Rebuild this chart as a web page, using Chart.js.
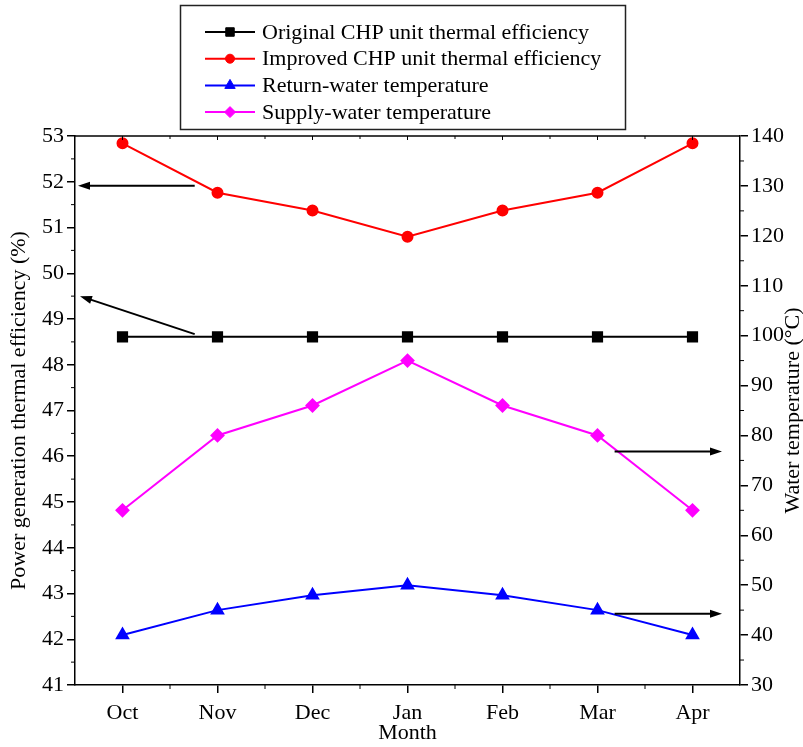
<!DOCTYPE html>
<html>
<head>
<meta charset="utf-8">
<script src="https://cdn.jsdelivr.net/npm/chart.js@4.4.0/dist/chart.umd.min.js"></script>
<style>
  html, body { margin: 0; padding: 0; background: #fff; }
  #wrap { width: 803px; height: 747px; }
</style>
</head>
<body>
<div id="wrap"><canvas id="chart" width="803" height="747"></canvas></div>
<script>
"use strict";

// values
const months = ["Oct", "Nov", "Dec", "Jan", "Feb", "Mar", "Apr"];
const originalEff = [48.61, 48.61, 48.61, 48.61, 48.61, 48.61, 48.61];
const improvedEff = [52.84, 51.76, 51.37, 50.80, 51.37, 51.76, 52.84];
const returnTemp = [40, 45, 48, 50, 48, 45, 40];
const supplyTemp = [65, 80, 86, 95, 86, 80, 65];

const effRange = [41, 53];
const tempRange = [30, 140];

const serif = "'Liberation Serif', 'Times New Roman', serif";
const fontSize = 22;
Chart.defaults.font.family = serif;
Chart.defaults.color = "#000";

// frame, minor ticks, arrows, legend box and right title
const decorPlugin = {
  id: "decor",
  afterDraw(chart) {
    const ctx = chart.ctx;
    const area = chart.chartArea;
    const x = chart.scales.x;
    const yEff = chart.scales.yEff;
    const yTemp = chart.scales.yTemp;

    ctx.save();
    ctx.strokeStyle = "#000";
    ctx.lineWidth = 1.5;

    // top border
    ctx.beginPath();
    ctx.moveTo(area.left, area.top);
    ctx.lineTo(area.right, area.top);
    ctx.stroke();

    // minor ticks
    ctx.lineWidth = 1;
    ctx.beginPath();
    for (let v = effRange[0] + 0.5; v < effRange[1]; v += 1) {
      const py = yEff.getPixelForValue(v);
      ctx.moveTo(area.left, py);
      ctx.lineTo(area.left - 4, py);
    }
    for (let v = tempRange[0] + 5; v < tempRange[1]; v += 10) {
      const py = yTemp.getPixelForValue(v);
      ctx.moveTo(area.right, py);
      ctx.lineTo(area.right + 4, py);
    }
    for (let i = 0; i < months.length; i++) {
      const pm = x.getPixelForValue(i);
      ctx.moveTo(pm, area.top);
      ctx.lineTo(pm, area.top + 4);
      const pn = x.getPixelForValue(i + 0.5);
      if (i < months.length - 1) {
        ctx.moveTo(pn, area.bottom);
        ctx.lineTo(pn, area.bottom + 4);
        ctx.moveTo(pn, area.top);
        ctx.lineTo(pn, area.top + 3);
      }
    }
    ctx.stroke();

    // arrows pointing at the axis each curve belongs to
    function arrow(x0, y0, x1, y1) {
      const ang = Math.atan2(y1 - y0, x1 - x0);
      const len = 12;
      ctx.lineWidth = 2;
      ctx.beginPath();
      ctx.moveTo(x0, y0);
      ctx.lineTo(x1 - Math.cos(ang) * len * 0.8, y1 - Math.sin(ang) * len * 0.8);
      ctx.stroke();
      ctx.beginPath();
      ctx.moveTo(x1, y1);
      ctx.lineTo(x1 - len * Math.cos(ang) + 4 * Math.sin(ang), y1 - len * Math.sin(ang) - 4 * Math.cos(ang));
      ctx.lineTo(x1 - len * Math.cos(ang) - 4 * Math.sin(ang), y1 - len * Math.sin(ang) + 4 * Math.cos(ang));
      ctx.closePath();
      ctx.fillStyle = "#000";
      ctx.fill();
    }
    arrow(x.getPixelForValue(0.76), yEff.getPixelForValue(51.91), area.left + 3, yEff.getPixelForValue(51.91));
    arrow(x.getPixelForValue(0.76), yEff.getPixelForValue(48.67), area.left + 5, yEff.getPixelForValue(49.5));
    arrow(x.getPixelForValue(5.18), yTemp.getPixelForValue(76.8), area.right - 18, yTemp.getPixelForValue(76.8));
    arrow(x.getPixelForValue(5.18), yTemp.getPixelForValue(44.3), area.right - 18, yTemp.getPixelForValue(44.3));

    // legend box
    ctx.strokeStyle = "#222";
    ctx.lineWidth = 1.5;
    ctx.strokeRect(180.5, 5.5, 445, 124);
    ctx.font = fontSize + "px " + serif;
    ctx.textBaseline = "middle";
    ctx.textAlign = "left";
    chart.data.datasets.forEach((ds, i) => {
      const ly = 32 + i * 26.7;
      ctx.strokeStyle = ds.borderColor;
      ctx.lineWidth = 2;
      ctx.beginPath();
      ctx.moveTo(205, ly);
      ctx.lineTo(255, ly);
      ctx.stroke();
      ctx.fillStyle = ds.backgroundColor;
      ctx.strokeStyle = ds.borderColor;
      ctx.lineWidth = 1;
      Chart.helpers.drawPoint(ctx, { pointStyle: ds.pointStyle, radius: ds.pointRadius - 0.5, rotation: 0, borderWidth: 1 }, 230, ly);
      ctx.fillStyle = "#000";
      ctx.fillText(ds.label, 262, ly + 1);
    });

    // right axis title, reading bottom to top
    ctx.save();
    ctx.translate(793, (area.top + area.bottom) / 2);
    ctx.rotate(-Math.PI / 2);
    ctx.textAlign = "center";
    ctx.fillStyle = "#000";
    ctx.fillText("Water temperature (\u00B0C)", 0, 0);
    ctx.restore();

    ctx.restore();
  }
};

const axisGrid = { drawOnChartArea: false, tickLength: 8, color: "#000", lineWidth: 1.5 };
const axisBorder = { color: "#000", width: 1.5 };

new Chart(document.getElementById("chart"), {
  type: "line",
  data: {
    labels: months,
    datasets: [
      {
        label: "Original CHP unit thermal efficiency",
        data: originalEff,
        yAxisID: "yEff",
        borderColor: "#000000",
        backgroundColor: "#000000",
        pointStyle: "rect",
        pointRadius: 6.5,
        borderWidth: 2
      },
      {
        label: "Improved CHP unit thermal efficiency",
        data: improvedEff,
        yAxisID: "yEff",
        borderColor: "#ff0000",
        backgroundColor: "#ff0000",
        pointStyle: "circle",
        pointRadius: 5,
        borderWidth: 2
      },
      {
        label: "Return-water temperature",
        data: returnTemp,
        yAxisID: "yTemp",
        borderColor: "#0000ff",
        backgroundColor: "#0000ff",
        pointStyle: "triangle",
        pointRadius: 6.5,
        borderWidth: 2
      },
      {
        label: "Supply-water temperature",
        data: supplyTemp,
        yAxisID: "yTemp",
        borderColor: "#ff00ff",
        backgroundColor: "#ff00ff",
        pointStyle: "rectRot",
        pointRadius: 6,
        borderWidth: 2
      }
    ]
  },
  options: {
    responsive: false,
    animation: false,
    layout: { padding: { top: 136, left: 0, right: 0, bottom: 0 } },
    plugins: {
      legend: { display: false },
      tooltip: { enabled: false }
    },
    scales: {
      x: {
        offset: true,
        grid: Object.assign({ offset: false }, axisGrid),
        border: axisBorder,
        ticks: { font: { size: fontSize }, padding: 7, maxRotation: 0 },
        title: { display: true, text: "Month", font: { size: fontSize }, padding: { top: 0, bottom: 1 } },
        afterFit(s) { s.height = 62; }
      },
      yEff: {
        position: "left",
        min: effRange[0],
        max: effRange[1],
        grid: axisGrid,
        border: axisBorder,
        ticks: { stepSize: 1, font: { size: fontSize }, padding: 3, autoSkip: false },
        title: { display: true, text: "Power generation thermal efficiency (%)", font: { size: fontSize }, padding: { top: 6, bottom: 0 } },
        afterFit(s) { s.width = 75; }
      },
      yTemp: {
        position: "right",
        min: tempRange[0],
        max: tempRange[1],
        grid: axisGrid,
        border: axisBorder,
        ticks: { stepSize: 10, font: { size: fontSize }, padding: 3, autoSkip: false },
        afterFit(s) { s.width = 63; }
      }
    }
  },
  plugins: [decorPlugin]
});
</script>
</body>
</html>
